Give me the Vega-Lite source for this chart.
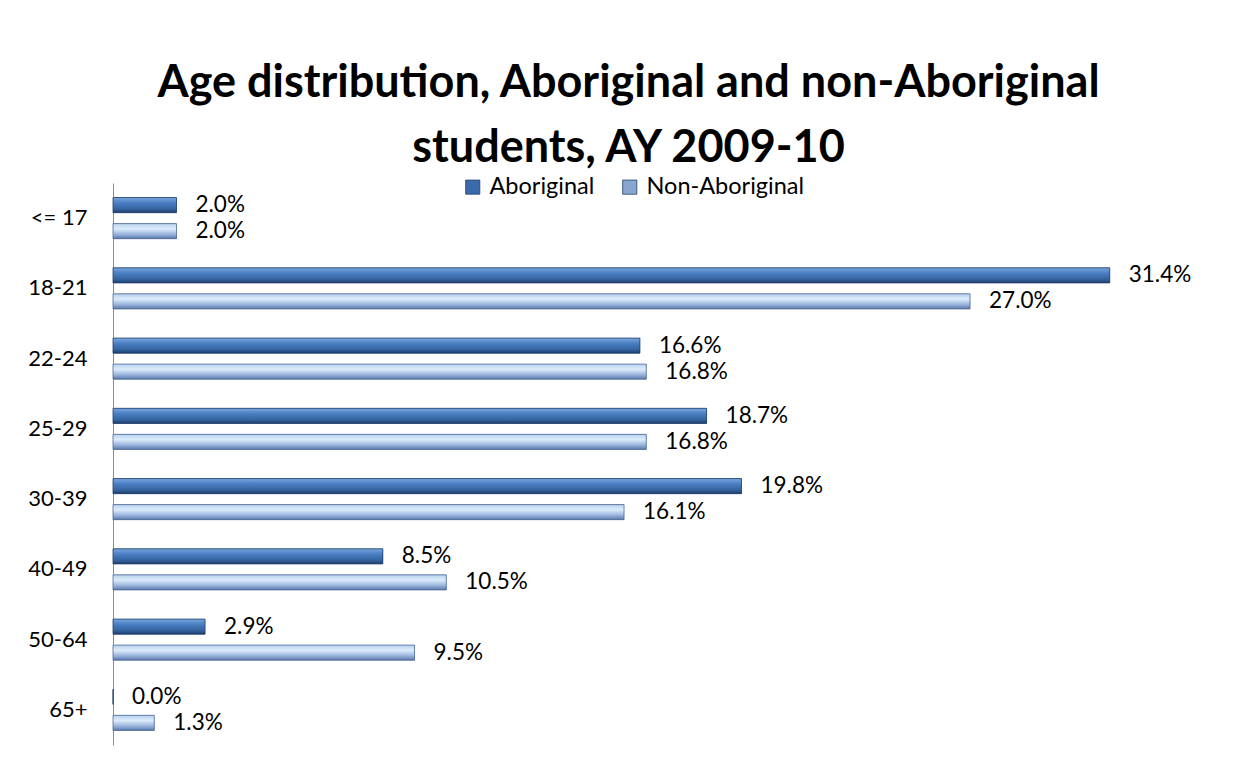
{
  "$schema": "https://vega.github.io/schema/vega-lite/v6.json",
  "width": 1111,
  "height": 562,
  "autosize": "none",
  "padding": {"left": 113, "top": 183, "right": 26, "bottom": 35},
  "background": "white",
  "title": {
    "text": ["Age distribution, Aboriginal and non-Aboriginal", "students, AY 2009-10"],
    "font": "Lato",
    "fontSize": 45,
    "fontWeight": "bold",
    "color": "#000000",
    "anchor": "middle",
    "frame": "group",
    "dx": -40,
    "offset": 4,
    "lineHeight": 65
  },
  "data": {
    "values": [
      {"age": "<= 17", "group": "Aboriginal", "pct": 0.020},
      {"age": "<= 17", "group": "Non-Aboriginal", "pct": 0.020},
      {"age": "18-21", "group": "Aboriginal", "pct": 0.314},
      {"age": "18-21", "group": "Non-Aboriginal", "pct": 0.270},
      {"age": "22-24", "group": "Aboriginal", "pct": 0.166},
      {"age": "22-24", "group": "Non-Aboriginal", "pct": 0.168},
      {"age": "25-29", "group": "Aboriginal", "pct": 0.187},
      {"age": "25-29", "group": "Non-Aboriginal", "pct": 0.168},
      {"age": "30-39", "group": "Aboriginal", "pct": 0.198},
      {"age": "30-39", "group": "Non-Aboriginal", "pct": 0.161},
      {"age": "40-49", "group": "Aboriginal", "pct": 0.085},
      {"age": "40-49", "group": "Non-Aboriginal", "pct": 0.105},
      {"age": "50-64", "group": "Aboriginal", "pct": 0.029},
      {"age": "50-64", "group": "Non-Aboriginal", "pct": 0.095},
      {"age": "65+", "group": "Aboriginal", "pct": 0.000},
      {"age": "65+", "group": "Non-Aboriginal", "pct": 0.013}
    ]
  },
  "encoding": {
    "y": {
      "field": "age",
      "type": "nominal",
      "sort": ["<= 17", "18-21", "22-24", "25-29", "30-39", "40-49", "50-64", "65+"],
      "scale": {"paddingInner": 0, "paddingOuter": 0},
      "axis": {
        "title": null,
        "ticks": false,
        "domainColor": "#8c8c8c",
        "domainWidth": 1,
        "labelFont": "Lato",
        "labelFontSize": 22,
        "labelColor": "#000000",
        "labelPadding": 26
      }
    },
    "yOffset": {
      "field": "group",
      "type": "nominal",
      "sort": ["Aboriginal", "Non-Aboriginal"],
      "scale": {"paddingInner": 0.42, "paddingOuter": 0.56}
    },
    "x": {
      "field": "pct",
      "type": "quantitative",
      "scale": {"domain": [0, 0.35]},
      "axis": null
    }
  },
  "layer": [
    {
      "mark": {"type": "bar"},
      "encoding": {
        "color": {
          "field": "group",
          "type": "nominal",
          "scale": {"domain": ["Aboriginal", "Non-Aboriginal"], "range": ["#3a6aaa", "#8aa6cf"]},
          "legend": {
            "orient": "none",
            "legendX": 348,
            "legendY": -8,
            "direction": "horizontal",
            "title": null,
            "labelFont": "Lato",
            "labelFontSize": 23.5,
            "labelColor": "#000000",
            "symbolType": "square",
            "symbolSize": 200,
            "symbolStrokeColor": "#203f6c",
            "symbolStrokeWidth": 0.8,
            "columnPadding": 23,
            "labelOffset": 5
          }
        }
      }
    },
    {
      "transform": [{"filter": "datum.group === 'Aboriginal'"}],
      "mark": {
        "type": "bar",
        "stroke": "#203f6c",
        "strokeWidth": 0.8,
        "fill": {
          "gradient": "linear",
          "x1": 0, "y1": 0, "x2": 0, "y2": 1,
          "stops": [
            {"offset": 0, "color": "#7aa6dc"},
            {"offset": 0.35, "color": "#4a7fc4"},
            {"offset": 0.75, "color": "#35649f"},
            {"offset": 1, "color": "#1f3e6e"}
          ]
        }
      }
    },
    {
      "transform": [{"filter": "datum.group === 'Non-Aboriginal'"}],
      "mark": {
        "type": "bar",
        "stroke": "#4d6a98",
        "strokeWidth": 0.8,
        "fill": {
          "gradient": "linear",
          "x1": 0, "y1": 0, "x2": 0, "y2": 1,
          "stops": [
            {"offset": 0, "color": "#b8d2f0"},
            {"offset": 0.35, "color": "#dcebfa"},
            {"offset": 0.7, "color": "#9ab6de"},
            {"offset": 1, "color": "#5b78a8"}
          ]
        }
      }
    },
    {
      "mark": {"type": "text", "align": "left", "baseline": "middle", "dx": 19, "font": "Lato", "fontSize": 22.5, "color": "#000000"},
      "encoding": {
        "text": {"field": "pct", "type": "quantitative", "format": ".1%"}
      }
    }
  ],
  "config": {
    "view": {"stroke": null}
  }
}
